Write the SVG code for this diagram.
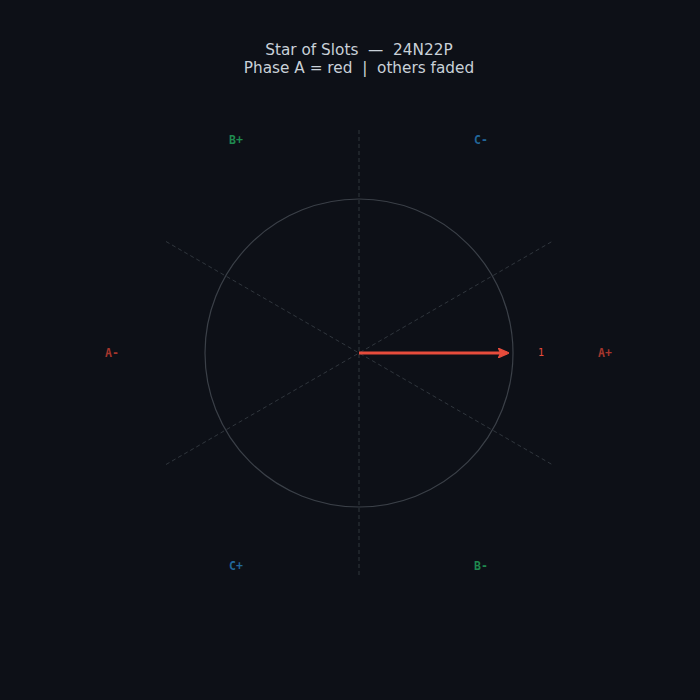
<svg xmlns="http://www.w3.org/2000/svg" width="700" height="700" viewBox="0 0 700 700">
<defs>
<style>
.title{font-family:"DejaVu Sans",sans-serif;font-size:15.3px;fill:#c9d1d9;text-anchor:middle;white-space:pre}
.lbl{font-family:"DejaVu Sans Mono",monospace;font-size:11.5px;font-weight:bold;text-anchor:middle;dominant-baseline:central}
.axis{stroke:#30363d;stroke-width:1;stroke-dasharray:4,3;fill:none}
</style>
<marker id="ah" viewBox="0 0 10 10" refX="8" refY="5" markerWidth="3.6" markerHeight="3.6" orient="auto" markerUnits="strokeWidth">
<path d="M0,0.5 L10,5 L0,9.5 L2,5 Z" fill="#e74c3c" stroke="#e74c3c" stroke-width="1" stroke-linejoin="round"/>
</marker>
</defs>
<rect width="700" height="700" fill="#0d1017"/>
<text class="title" x="359" y="55" xml:space="preserve">Star of Slots  —  24N22P</text>
<text class="title" x="359" y="73" xml:space="preserve">Phase A = red  |  others faded</text>
<g id="axes">
<line class="axis" x1="359" y1="130" x2="359" y2="576"/>
<line class="axis" x1="166" y1="241.5" x2="552" y2="464.5"/>
<line class="axis" x1="166" y1="464.5" x2="552" y2="241.5"/>
</g>
<circle id="unit-circle" cx="359" cy="353" r="154" fill="none" stroke="#3b4048" stroke-width="1.2"/>
<g id="connectors">
<line x1="359" y1="353" x2="507" y2="353" stroke="#e74c3c" stroke-width="3" marker-end="url(#ah)"/>
</g>
<g id="slot-1">
<text class="lbl" x="541" y="352" style="font-weight:normal;font-size:10px" fill="#e74c3c">1</text>
</g>
<g id="labels">
<text id="Aplus" class="lbl" x="605" y="353" fill="#a5362d">A+</text>
<text id="Aminus" class="lbl" x="112" y="353" fill="#a5362d">A-</text>
<text id="Bplus" class="lbl" x="236" y="140" fill="#1f8a4f">B+</text>
<text id="Bminus" class="lbl" x="481" y="566" fill="#1f8a4f">B-</text>
<text id="Cminus" class="lbl" x="481" y="140" fill="#22679a">C-</text>
<text id="Cplus" class="lbl" x="236" y="566" fill="#22679a">C+</text>
</g>
</svg>
